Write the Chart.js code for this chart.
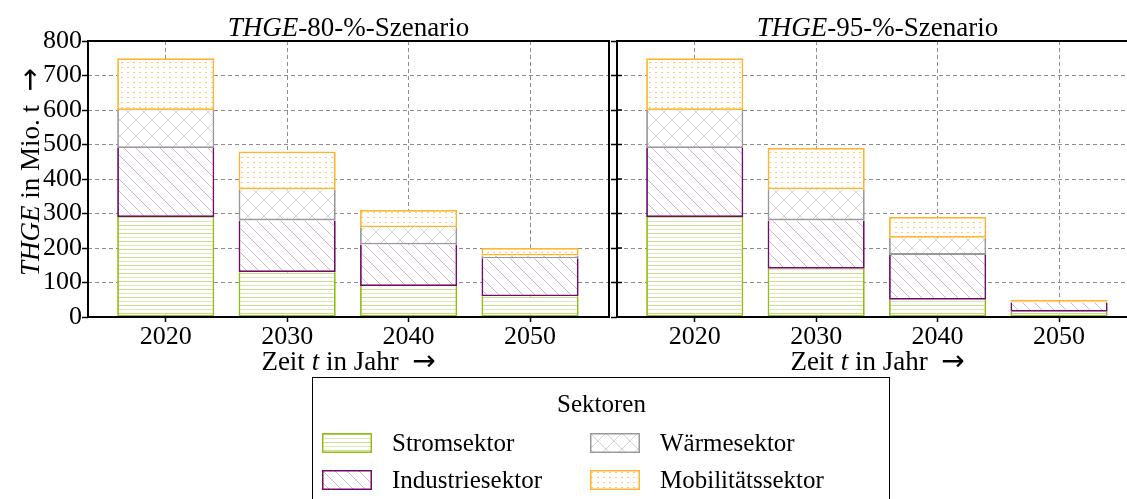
<!DOCTYPE html>
<html>
<head>
<meta charset="utf-8">
<script src="https://cdn.jsdelivr.net/npm/chart.js@4.4.1/dist/chart.umd.min.js"></script>
<style>
  body { margin:0; width:1127px; height:499px; overflow:hidden; position:relative; background:#fff;
         font-family:"Liberation Serif","DejaVu Serif",serif; color:#000; }
  .abs { position:absolute; }
  .txt { position:absolute; font-size:27px; line-height:34px; height:34px; text-align:center; white-space:nowrap; }
  .arr { font-family:"DejaVu Sans",sans-serif; font-size:28px; line-height:20px; }
  .leg { position:absolute; font-size:25px; line-height:30px; white-space:nowrap; }
  #legBox { position:absolute; left:312px; top:377px; width:576px; height:140px; border:1.5px solid #000; }
</style>
</head>
<body>
<div class="abs" style="left:0;top:0;width:620px;height:380px"><canvas id="c80"></canvas></div>
<div class="abs" style="left:600px;top:0;width:545px;height:380px"><canvas id="c95"></canvas></div>

<div class="txt" style="left:88px;top:10px;width:521px"><i>THGE</i>-80-%-Szenario</div>
<div class="txt" style="left:617px;top:10px;width:521px"><i>THGE</i>-95-%-Szenario</div>
<div class="txt" style="left:88px;top:344px;width:521px">Zeit <i>t</i> in Jahr &nbsp;<span class="arr">→</span></div>
<div class="txt" style="left:617px;top:344px;width:521px">Zeit <i>t</i> in Jahr &nbsp;<span class="arr">→</span></div>
<div class="txt" style="left:-100px;top:155px;width:260px;transform:rotate(-90deg)"><i>THGE</i> in Mio. t &nbsp;<span class="arr">→</span></div>

<div id="legBox"></div>
<div class="leg" style="left:312px;top:389px;width:579px;text-align:center">Sektoren</div>
<div id="legItems"></div>

<script>
const years = ['2020', '2030', '2040', '2050'];
const sectors = ['Stromsektor', 'Industriesektor', 'Wärmesektor', 'Mobilitätssektor'];

// THGE-80-%-Szenario, Mio. t
const strom80  = [290, 130, 90, 60];
const ind80    = [200, 150, 120, 110];
const waerme80 = [110, 90, 50, 8];
const mobil80  = [150, 110, 50, 22];

// THGE-95-%-Szenario, Mio. t
const strom95  = [290, 140, 50, 15];
const ind95    = [200, 140, 130, 27];
const waerme95 = [110, 90, 50, 2];
const mobil95  = [150, 120, 60, 6];

const yTicks = [0, 100, 200, 300, 400, 500, 600, 700, 800];

const edge = {strom:'#8fbf16', ind:'#710b69', waerme:'#999999', mobil:'#ffb42c'};

function makePattern(kind){
	let c = document.createElement('canvas');
	let g = c.getContext('2d');
	if(kind == 'strom'){
		c.width = 8; c.height = 8;
		g.fillStyle = '#fff'; g.fillRect(0,0,8,8);
		g.fillStyle = 'rgba(143,191,22,0.5)'; g.fillRect(0,1,8,1);
		g.fillStyle = 'rgba(143,191,22,0.32)'; g.fillRect(0,5,8,1);
	} else if(kind == 'ind'){
		c.width = 12; c.height = 12;
		g.fillStyle = '#fff'; g.fillRect(0,0,12,12);
		g.strokeStyle = 'rgba(113,11,105,0.32)'; g.lineWidth = 1;
		g.beginPath();
		g.moveTo(-2,-2); g.lineTo(14,14);
		g.moveTo(-14,-2); g.lineTo(2,14);
		g.moveTo(10,-2); g.lineTo(26,14);
		g.stroke();
	} else if(kind == 'waerme'){
		c.width = 16; c.height = 16;
		g.fillStyle = '#fff'; g.fillRect(0,0,16,16);
		g.strokeStyle = 'rgba(150,150,150,0.4)'; g.lineWidth = 1;
		g.beginPath();
		g.moveTo(-2,-2); g.lineTo(18,18);
		g.moveTo(18,-2); g.lineTo(-2,18);
		g.stroke();
	} else {
		c.width = 6; c.height = 5;
		g.fillStyle = '#fff'; g.fillRect(0,0,6,5);
		g.fillStyle = 'rgba(255,180,44,0.7)'; g.fillRect(1,2,2,1);
	}
	return g.createPattern(c, 'repeat');
}

// draws spines (and inward y ticks for the right panel)
const frame = {
	id: 'frame',
	afterDatasetsDraw(chart, args, opts){
		const {ctx, chartArea: a} = chart;
		ctx.save();
		ctx.strokeStyle = '#000';
		ctx.lineWidth = 2;
		ctx.strokeRect(a.left, a.top, a.right - a.left, a.bottom - a.top);
		if(opts.inTicks){
			ctx.lineWidth = 1.5;
			ctx.beginPath();
			for(const v of yTicks){
				let y = chart.scales.y.getPixelForValue(v);
				ctx.moveTo(a.left, y); ctx.lineTo(a.left + 5, y);
			}
			ctx.stroke();
		}
		ctx.restore();
	}
};

function toXY(arr){ return arr.map((v, i) => ({x: i, y: v})); }

function makeChart(id, series, opts){
	const keys = ['strom', 'ind', 'waerme', 'mobil'];
	const datasets = series.map((s, i) => ({
		label: sectors[i],
		data: toXY(s),
		backgroundColor: makePattern(keys[i]),
		borderColor: edge[keys[i]],
		borderWidth: i == 3 ? 1.8 : {top:0, left:1.8, right:1.8, bottom:1.8},
		borderSkipped: false,
		barPercentage: 0.8,
		categoryPercentage: 1
	}));
	return new Chart(document.getElementById(id), {
		type: 'bar',
		data: {datasets: datasets},
		plugins: [frame],
		options: {
			animation: false,
			responsive: true,
			maintainAspectRatio: false,
			layout: {padding: {left:0, top:41, right:opts.padRight, bottom:13}},
			plugins: {legend: {display:false}, tooltip: {enabled:false}, frame: {inTicks: opts.inTicks}},
			scales: {
				x: {
					type: 'linear', stacked: true, min: -0.64, max: 3.65, offset: false,
					afterBuildTicks: s => { s.ticks = years.map((y, i) => ({value: i})); },
					afterFit: s => { s.height = 50; },
					ticks: {callback: v => years[v], color:'#000', padding:0,
							font: {family:'Liberation Serif', size:26}},
					grid: {offset:false, color:'#8c8c8c', lineWidth:1, tickLength:5, tickColor:'#000', tickWidth:1.5},
					border: {display:false, dash:[4,3]}
				},
				y: {
					stacked: true, min: 0, max: 800,
					afterBuildTicks: s => { s.ticks = yTicks.map(v => ({value: v})); },
					afterFit: s => { s.width = opts.yWidth; },
					ticks: {display: opts.yLabels, color:'#000', padding:0,
							font: {family:'Liberation Serif', size:26}},
					grid: {color:'#8c8c8c', lineWidth:1, tickLength:6, tickColor:'#000', tickWidth:1.5},
					border: {display:false, dash:[4,3]}
				}
			}
		}
	});
}

makeChart('c80', [strom80, ind80, waerme80, mobil80], {padRight:11, yWidth:88, yLabels:true, inTicks:false});
makeChart('c95', [strom95, ind95, waerme95, mobil95], {padRight:7, yWidth:17, yLabels:false, inTicks:true});

// legend
const legPos = [[322, 433, 392], [322, 470, 392], [590, 433, 660], [590, 470, 660]];
const legKeys = ['strom', 'ind', 'waerme', 'mobil'];
let html = '';
for(let i = 0; i < 4; i++){
	let p = legPos[i];
	html += "<canvas id='sw_" + i + "' width='50' height='20' class='abs' style='left:" + p[0] + "px;top:" + p[1] + "px'></canvas>";
	html += "<div class='leg' style='left:" + p[2] + "px;top:" + (p[1] - 5) + "px'>" + sectors[i] + "</div>";
}
document.getElementById('legItems').innerHTML = html;
for(let i = 0; i < 4; i++){
	let g = document.getElementById('sw_' + i).getContext('2d');
	g.fillStyle = makePattern(legKeys[i]);
	g.fillRect(0, 0, 50, 20);
	g.strokeStyle = edge[legKeys[i]];
	g.lineWidth = 1.5;
	g.strokeRect(0.75, 0.75, 48.5, 18.5);
}
</script>
</body>
</html>
